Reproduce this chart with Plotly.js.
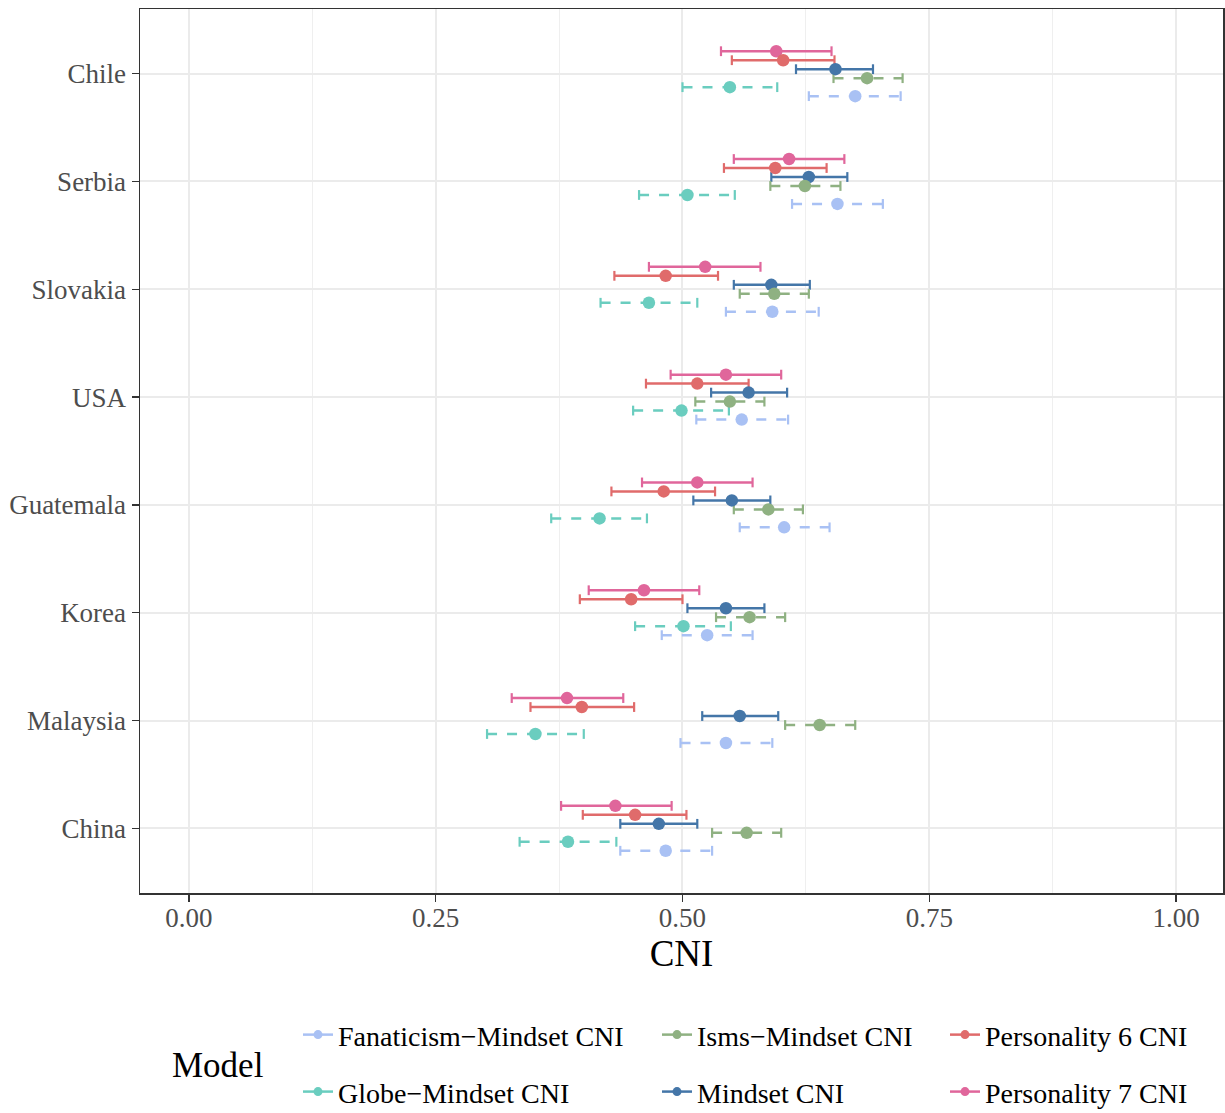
<!DOCTYPE html>
<html><head><meta charset="utf-8">
<script src="https://cdn.plot.ly/plotly-3.0.1.min.js"></script>
<style>html,body{margin:0;padding:0;background:#fff}#chart{width:1225px;height:1113px}</style>
</head><body><div id="chart"></div>
<script>
// ---- data ----
const countries = ['Chile','Serbia','Slovakia','USA','Guatemala','Korea','Malaysia','China'];
const models = ['Personality 7 CNI','Personality 6 CNI','Mindset CNI','Isms\u2212Mindset CNI','Globe\u2212Mindset CNI','Fanaticism\u2212Mindset CNI'];

const p7_est = [0.595,0.608,0.523,0.544,0.515,0.461,0.383,0.432];
const p7_lo  = [0.539,0.552,0.466,0.488,0.459,0.405,0.327,0.377];
const p7_hi  = [0.651,0.664,0.579,0.600,0.571,0.517,0.440,0.489];

const p6_est = [0.602,0.594,0.483,0.515,0.481,0.448,0.398,0.452];
const p6_lo  = [0.550,0.542,0.431,0.463,0.428,0.396,0.346,0.399];
const p6_hi  = [0.654,0.646,0.536,0.567,0.533,0.500,0.451,0.504];

const mind_est = [0.655,0.628,0.590,0.567,0.550,0.544,0.558,0.476];
const mind_lo  = [0.615,0.590,0.552,0.529,0.511,0.505,0.520,0.437];
const mind_hi  = [0.693,0.667,0.629,0.606,0.589,0.583,0.597,0.515];

const isms_est = [0.687,0.624,0.593,0.548,0.587,0.568,0.639,0.565];
const isms_lo  = [0.653,0.589,0.558,0.513,0.552,0.534,0.604,0.530];
const isms_hi  = [0.723,0.660,0.628,0.583,0.622,0.604,0.675,0.600];

const globe_est = [0.548,0.505,0.466,0.499,0.416,0.501,0.351,0.384];
const globe_lo  = [0.500,0.456,0.417,0.450,0.367,0.452,0.302,0.335];
const globe_hi  = [0.596,0.553,0.515,0.547,0.464,0.549,0.400,0.433];

const fan_est = [0.675,0.657,0.591,0.560,0.603,0.525,0.544,0.483];
const fan_lo  = [0.628,0.611,0.544,0.514,0.558,0.479,0.498,0.437];
const fan_hi  = [0.721,0.703,0.638,0.607,0.649,0.571,0.591,0.530];

const xTicks = [0, 0.25, 0.5, 0.75, 1];
const xTickText = ['0.00','0.25','0.50','0.75','1.00'];

// ---- styles ----
const series = [
  {name: models[0], est: p7_est, lo: p7_lo, hi: p7_hi, color: '#E0669B', dash: 'solid'},
  {name: models[1], est: p6_est, lo: p6_lo, hi: p6_hi, color: '#E06B6B', dash: 'solid'},
  {name: models[2], est: mind_est, lo: mind_lo, hi: mind_hi, color: '#4476A8', dash: 'solid'},
  {name: models[3], est: isms_est, lo: isms_lo, hi: isms_hi, color: '#8FB182', dash: '10px,10px'},
  {name: models[4], est: globe_est, lo: globe_lo, hi: globe_hi, color: '#6ACDBF', dash: '10px,10px'},
  {name: models[5], est: fan_est, lo: fan_lo, hi: fan_hi, color: '#A9C1F4', dash: '10px,10px'}
];
const dodgeWidth = 0.5;
const nC = countries.length;
const catPos = countries.map((c, i) => nC - i);   // Chile on top
function yPos(si) {
  const n = series.length;
  const off = dodgeWidth / 2 - dodgeWidth / n * (si + 0.5);
  return catPos.map(p => p + off);
}

const FONT = 'Liberation Serif, Times New Roman, serif';
const traces = [];
// error bars (drawn first)
series.forEach((s, si) => {
  const yp = yPos(si);
  const xs = [], ys = [];
  s.lo.forEach((lo, i) => { xs.push(lo, s.hi[i], null); ys.push(yp[i], yp[i], null); });
  traces.push({type: 'scatter', mode: 'lines', x: xs, y: ys, showlegend: false, hoverinfo: 'skip',
    line: {color: s.color, width: 2.5, dash: s.dash}});
  traces.push({type: 'scatter', mode: 'markers', x: s.lo.concat(s.hi), y: yp.concat(yp),
    showlegend: false, hoverinfo: 'skip',
    marker: {symbol: 'line-ns', size: 7, line: {color: s.color, width: 2.2}}});
});
// points
series.forEach((s, si) => {
  traces.push({type: 'scatter', mode: 'markers', x: s.est, y: yPos(si), name: s.name,
    showlegend: false, text: countries,
    marker: {color: s.color, size: 12.5}});
});
// legend entries (column-wise like the reference)
const legendOrder = [5, 3, 1, 4, 2, 0];
legendOrder.forEach((si, k) => {
  const s = series[si];
  traces.push({type: 'scatter', mode: 'lines+markers', x: [null], y: [null], name: s.name,
    legend: k === 0 ? 'legend' : 'legend' + (k + 1), hoverinfo: 'skip',
    line: {color: s.color, width: 2.5}, marker: {color: s.color, size: 9}});
});

const PL = 140, PR = 1223, PT = 8.5, PB = 893;
const px2x = px => (px - PL) / (PR - PL);
const py2y = py => (PB - py) / (PB - PT);
const textStarts = [338, 697, 985];
const rowCenters = [1035, 1092];
const layout = {
  width: 1225, height: 1113,
  margin: {l: PL, r: 1225 - PR, t: PT, b: 1113 - PB, pad: 0, autoexpand: false},
  paper_bgcolor: '#fff', plot_bgcolor: '#fff',
  font: {family: FONT, color: '#000'},
  showlegend: true,
  xaxis: {
    range: [-0.0496, 1.0476], tickvals: xTicks, ticktext: xTickText,
    showgrid: true, gridcolor: '#EBEBEB', gridwidth: 2, zeroline: false,
    minor: {dtick: 0.125, tick0: 0, showgrid: true, gridcolor: '#EFEFEF', gridwidth: 1, ticks: ''},
    ticks: 'outside', ticklen: 7, tickwidth: 1.5, tickcolor: '#333', ticklabelstandoff: -7,
    showline: true, mirror: true, linecolor: '#333', linewidth: 1.5,
    tickfont: {family: FONT, size: 27, color: '#4D4D4D'},
    title: {text: 'CNI', font: {family: FONT, size: 37, color: '#000'}, standoff: 8}
  },
  yaxis: {
    range: [0.4, nC + 0.6], tickvals: catPos, ticktext: countries,
    showgrid: true, gridcolor: '#EBEBEB', gridwidth: 2, zeroline: false,
    ticks: 'outside', ticklen: 7, tickwidth: 1.5, tickcolor: '#333',
    showline: true, mirror: true, linecolor: '#333', linewidth: 1.5,
    tickfont: {family: FONT, size: 27, color: '#4D4D4D'}
  },
  annotations: [{
    text: 'Model', xref: 'paper', yref: 'paper', x: px2x(170), y: py2y(1066),
    xanchor: 'left', yanchor: 'middle', showarrow: false,
    font: {family: FONT, size: 35, color: '#000'}
  }]
};
legendOrder.forEach((si, k) => {
  const col = k % 3, row = Math.floor(k / 3);
  const key = k === 0 ? 'legend' : 'legend' + (k + 1);
  layout[key] = {
    x: px2x(textStarts[col] - 40), y: py2y(rowCenters[row]), xanchor: 'left', yanchor: 'middle',
    orientation: 'v', bgcolor: 'rgba(0,0,0,0)', borderwidth: 0,
    font: {family: FONT, size: 28, color: '#000'}, itemclick: false, itemdoubleclick: false
  };
});
Plotly.newPlot('chart', traces, layout, {displayModeBar: false, staticPlot: true});
</script>
</body></html>
